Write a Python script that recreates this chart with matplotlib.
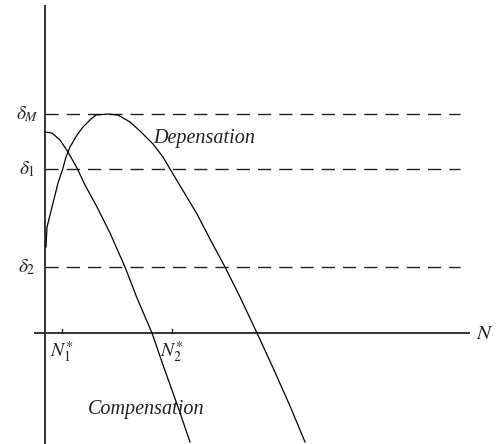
import matplotlib
matplotlib.use("Agg")
import matplotlib.pyplot as plt

plt.rcParams["mathtext.fontset"] = "stix"

# Harvest levels (horizontal reference lines)
delta_levels = [2.19, 1.64, 0.66]
delta_labels = [r"$\delta_{M}$", r"$\delta_{\mathit{1}}$", r"$\delta_{\mathit{2}}$"]

# Equilibrium population sizes marked on the N axis
n_ticks = [0.17, 1.27]
n_labels = [r"$N_{\mathit{1}}^{\ast}$", r"$N_{\mathit{2}}^{\ast}$"]

# Compensation growth curve
comp_n = [0.00, 0.07, 0.15, 0.23, 0.32, 0.40, 0.52, 0.65, 0.80, 0.92,
          1.07, 1.18, 1.33, 1.45]
comp_g = [2.01, 2.00, 1.93, 1.81, 1.65, 1.48, 1.26, 1.00, 0.66, 0.35,
          0.00, -0.32, -0.74, -1.09]

# Depensation growth curve
dep_n = [0.01, 0.02, 0.07, 0.13, 0.18, 0.21, 0.25, 0.32, 0.38, 0.46,
         0.51, 0.63, 0.73, 0.85, 0.95, 1.08, 1.18, 1.25, 1.37, 1.52,
         1.65, 1.80, 1.95, 2.12, 2.29, 2.45, 2.60]
dep_g = [0.86, 1.06, 1.26, 1.50, 1.65, 1.76, 1.86, 1.98, 2.06, 2.14,
         2.18, 2.19, 2.18, 2.11, 2.02, 1.89, 1.76, 1.64, 1.44, 1.19,
         0.94, 0.66, 0.36, 0.00, -0.37, -0.73, -1.09]

fig = plt.figure(figsize=(4.98, 4.44), dpi=100)
ax = fig.add_axes([0, 0, 1, 1])
ax.set_xlim(-0.45, 4.53)
ax.set_ylim(-1.11, 3.33)
ax.axis("off")

serif_it = dict(family="Liberation Serif", style="italic")

# Axes
ax.plot([0, 0], [-1.11, 3.28], color="#333333", lw=1.4, solid_capstyle="butt")
ax.plot([-0.11, 4.25], [0, 0], color="#333333", lw=1.4, solid_capstyle="butt")

# Dashed harvest levels
for lvl, lab in zip(delta_levels, delta_labels):
    ax.plot([0, 4.15], [lvl, lvl], color="#222222", lw=1.0,
            dashes=(9.5, 5.8))
    ax.text(-0.18, lvl, lab, ha="center", va="center", fontsize=14,
            color="#222222")

# Equilibrium ticks and labels
for nx, lab in zip(n_ticks, n_labels):
    ax.plot([nx, nx], [0, 0.04], color="#222222", lw=1.0)
    ax.text(nx, -0.2, lab, ha="center", va="center", fontsize=14,
            color="#222222")

# Growth curves
ax.plot(comp_n, comp_g, color="black", lw=0.9)
ax.plot(dep_n, dep_g, color="black", lw=0.9)

# Curve and axis labels
ax.text(1.08, 1.95, "Depensation", ha="left", va="center", fontsize=14.5,
        color="#222222", **serif_it)
ax.text(0.43, -0.76, "Compensation", ha="left", va="center", fontsize=14.5,
        color="#222222", **serif_it)
ax.text(4.40, 0.0, r"$N$", ha="center", va="center", fontsize=15,
        color="#222222")

fig.savefig("out.png", dpi=100)
